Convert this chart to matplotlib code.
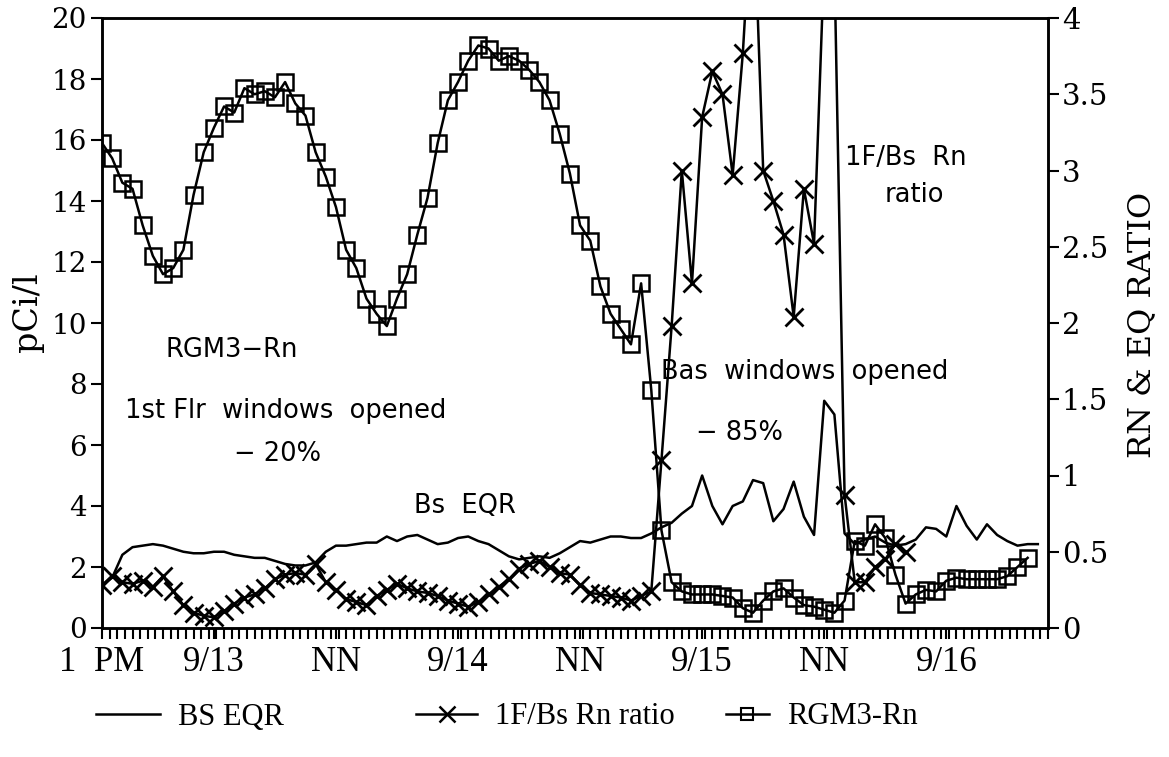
import matplotlib.pyplot as plt
from matplotlib.ticker import MultipleLocator, FixedLocator, FuncFormatter
from matplotlib.lines import Line2D
import numpy as np

# hourly readings, hour 0 = 1 PM 9/12
rgm3_rn = [15.9, 15.4, 14.6, 14.4, 13.2, 12.2, 11.6, 11.8, 12.4, 14.2,
           15.6, 16.4, 17.1, 16.9, 17.7, 17.5, 17.6, 17.4, 17.9, 17.2,
           16.8, 15.6, 14.8, 13.8, 12.4, 11.8, 10.8, 10.3, 9.9, 10.8,
           11.6, 12.9, 14.1, 15.9, 17.3, 17.9, 18.6, 19.1, 19.0, 18.6,
           18.75, 18.6, 18.3, 17.9, 17.3, 16.2, 14.9, 13.2, 12.7, 11.2,
           10.3, 9.8, 9.3, 11.3, 7.8, 3.2, 1.5, 1.2, 1.1, 1.1,
           1.1, 1.05, 1.0, 0.65, 0.5, 0.9, 1.2, 1.3, 1.0, 0.75,
           0.7, 0.6, 0.5, 0.9, 2.85, 2.7, 3.4, 2.95, 1.75, 0.8,
           1.1, 1.25, 1.2, 1.55, 1.65, 1.6, 1.6, 1.6, 1.6, 1.7,
           2.0, 2.3]

rn_ratio = [0.28, 0.34, 0.30, 0.29, 0.31, 0.27, 0.34, 0.24, 0.15, 0.10,
            0.08, 0.07, 0.11, 0.16, 0.20, 0.22, 0.26, 0.32, 0.35, 0.36,
            0.35, 0.42, 0.30, 0.25, 0.19, 0.17, 0.15, 0.21, 0.25, 0.29,
            0.26, 0.24, 0.23, 0.21, 0.18, 0.16, 0.14, 0.17, 0.22, 0.27,
            0.32, 0.39, 0.42, 0.44, 0.40, 0.36, 0.35, 0.28, 0.23, 0.22,
            0.21, 0.20, 0.18, 0.21, 0.24, 1.10, 1.98, 3.0, 2.26, 3.35,
            3.65, 3.5, 2.97, 3.77, 4.9, 3.0, 2.8, 2.58, 2.04, 2.88,
            2.52, 4.38, 4.36, 0.875, 0.30, 0.30, 0.40, 0.45, 0.55, 0.50]

bs_eqr = [0.28, 0.33, 0.48, 0.53, 0.54, 0.55, 0.54, 0.52, 0.50, 0.49,
          0.49, 0.50, 0.50, 0.48, 0.47, 0.46, 0.46, 0.44, 0.42, 0.41,
          0.41, 0.43, 0.50, 0.54, 0.54, 0.55, 0.56, 0.56, 0.60, 0.57,
          0.60, 0.61, 0.58, 0.55, 0.56, 0.59, 0.60, 0.57, 0.55, 0.51,
          0.47, 0.45, 0.46, 0.47, 0.46, 0.49, 0.53, 0.57, 0.56, 0.58,
          0.60, 0.60, 0.59, 0.59, 0.62, 0.66, 0.69, 0.75, 0.80, 1.0,
          0.80, 0.68, 0.80, 0.83, 0.97, 0.95, 0.70, 0.78, 0.96, 0.73,
          0.61, 1.49, 1.40, 0.62, 0.55, 0.58, 0.60, 0.56, 0.54, 0.55,
          0.58, 0.66, 0.65, 0.60, 0.80, 0.67, 0.58, 0.68, 0.61, 0.57,
          0.54, 0.55, 0.55]

xtick_hours = [0, 11, 23, 35, 47, 59, 71, 83]
xtick_labels = ['1  PM', '9/13', 'NN', '9/14', 'NN', '9/15', 'NN', '9/16']

serif = 'DejaVu Serif'
cond = 'Liberation Serif'
sans = 'DejaVu Sans'

fig = plt.figure(figsize=(11.69, 7.57), dpi=100)
ax = fig.add_axes([102/1169, 1-628/757, (1048-102)/1169, (628-18)/757])
ax2 = ax.twinx()

ax.plot(np.arange(len(rgm3_rn)), rgm3_rn, color='black', lw=1.8,
        marker='s', ms=12, mfc='none', mec='black', mew=1.8)
ax2.plot(np.arange(len(rn_ratio)), rn_ratio, color='black', lw=1.8,
         marker='x', ms=13, mew=2)
ax2.plot(np.arange(len(bs_eqr)), bs_eqr, color='black', lw=1.8)

ax.set_xlim(0, 93)
ax.set_ylim(0, 20)
ax2.set_ylim(0, 4)

ax.set_yticks(np.arange(0, 21, 2))
ax2.set_yticks(np.arange(0, 4.01, 0.5))
ax2.yaxis.set_major_formatter(FuncFormatter(lambda v, p: '%g' % v))
ax.xaxis.set_major_locator(FixedLocator(xtick_hours))
ax.set_xticklabels(xtick_labels, fontfamily=cond, fontsize=25)
ax.xaxis.set_minor_locator(MultipleLocator(0.75))

for a in (ax, ax2):
    a.tick_params(direction='out', length=8, width=1.5)
    a.tick_params(which='minor', direction='out', length=8, width=1.5)
    for s in a.spines.values():
        s.set_linewidth(1.8)
for lab in ax.get_yticklabels():
    lab.set_fontfamily(serif)
    lab.set_fontsize(20)
for lab in ax2.get_yticklabels():
    lab.set_fontfamily(serif)
    lab.set_fontsize(21)
ax.tick_params(axis='y', pad=3)
ax2.tick_params(axis='y', pad=2)
ax.tick_params(axis='x', pad=5)

fs = 18.5
ax.text(12.8, 9.1, 'RGM3\u2212Rn', family=sans, fontsize=fs, ha='center', va='center')
ax.text(18.1, 7.1, '1st Flr  windows  opened', family=sans, fontsize=fs, ha='center', va='center')
ax.text(17.3, 5.7, '\u2212 20%', family=sans, fontsize=fs, ha='center', va='center')
ax.text(35.7, 4.0, 'Bs  EQR', family=sans, fontsize=fs, ha='center', va='center')
ax.text(69.1, 8.4, 'Bas  windows  opened', family=sans, fontsize=fs, ha='center', va='center')
ax.text(62.7, 6.4, '\u2212 85%', family=sans, fontsize=fs, ha='center', va='center')
ax.text(79.0, 15.4, '1F/Bs  Rn', family=sans, fontsize=fs, ha='center', va='center')
ax.text(79.9, 14.2, 'ratio', family=sans, fontsize=fs, ha='center', va='center')

fig.text(28/1169, 1-312/757, 'pCi/l', family=serif, fontsize=24, rotation=90,
         ha='center', va='center')
fig.text(1142/1169, 1-325/757, 'RN & EQ RATIO', family=serif, fontsize=23, rotation=90,
         ha='center', va='center')

# legend: three entries placed along the bottom
leg_y = 1 - 717/757
entries = [
    (Line2D([], [], color='black', lw=1.8), 'BS EQR', 96, 2.1),
    (Line2D([], [], color='black', lw=1.8, marker='x', ms=11, mew=1.8),
     '1F/Bs Rn ratio', 416, 2.0),
    (Line2D([], [], color='black', lw=1.8, marker='s', ms=8, mfc='none', mew=1.5),
     'RGM3-Rn', 726, 1.4),
]
for h, lab, x0, hl in entries:
    fig.legend([h], [lab], loc='center left', bbox_to_anchor=(x0/1169, leg_y),
               frameon=False, prop={'family': cond, 'size': 22},
               handlelength=hl, handletextpad=0.6, borderpad=0, borderaxespad=0)

fig.savefig('out.png', dpi=100)
